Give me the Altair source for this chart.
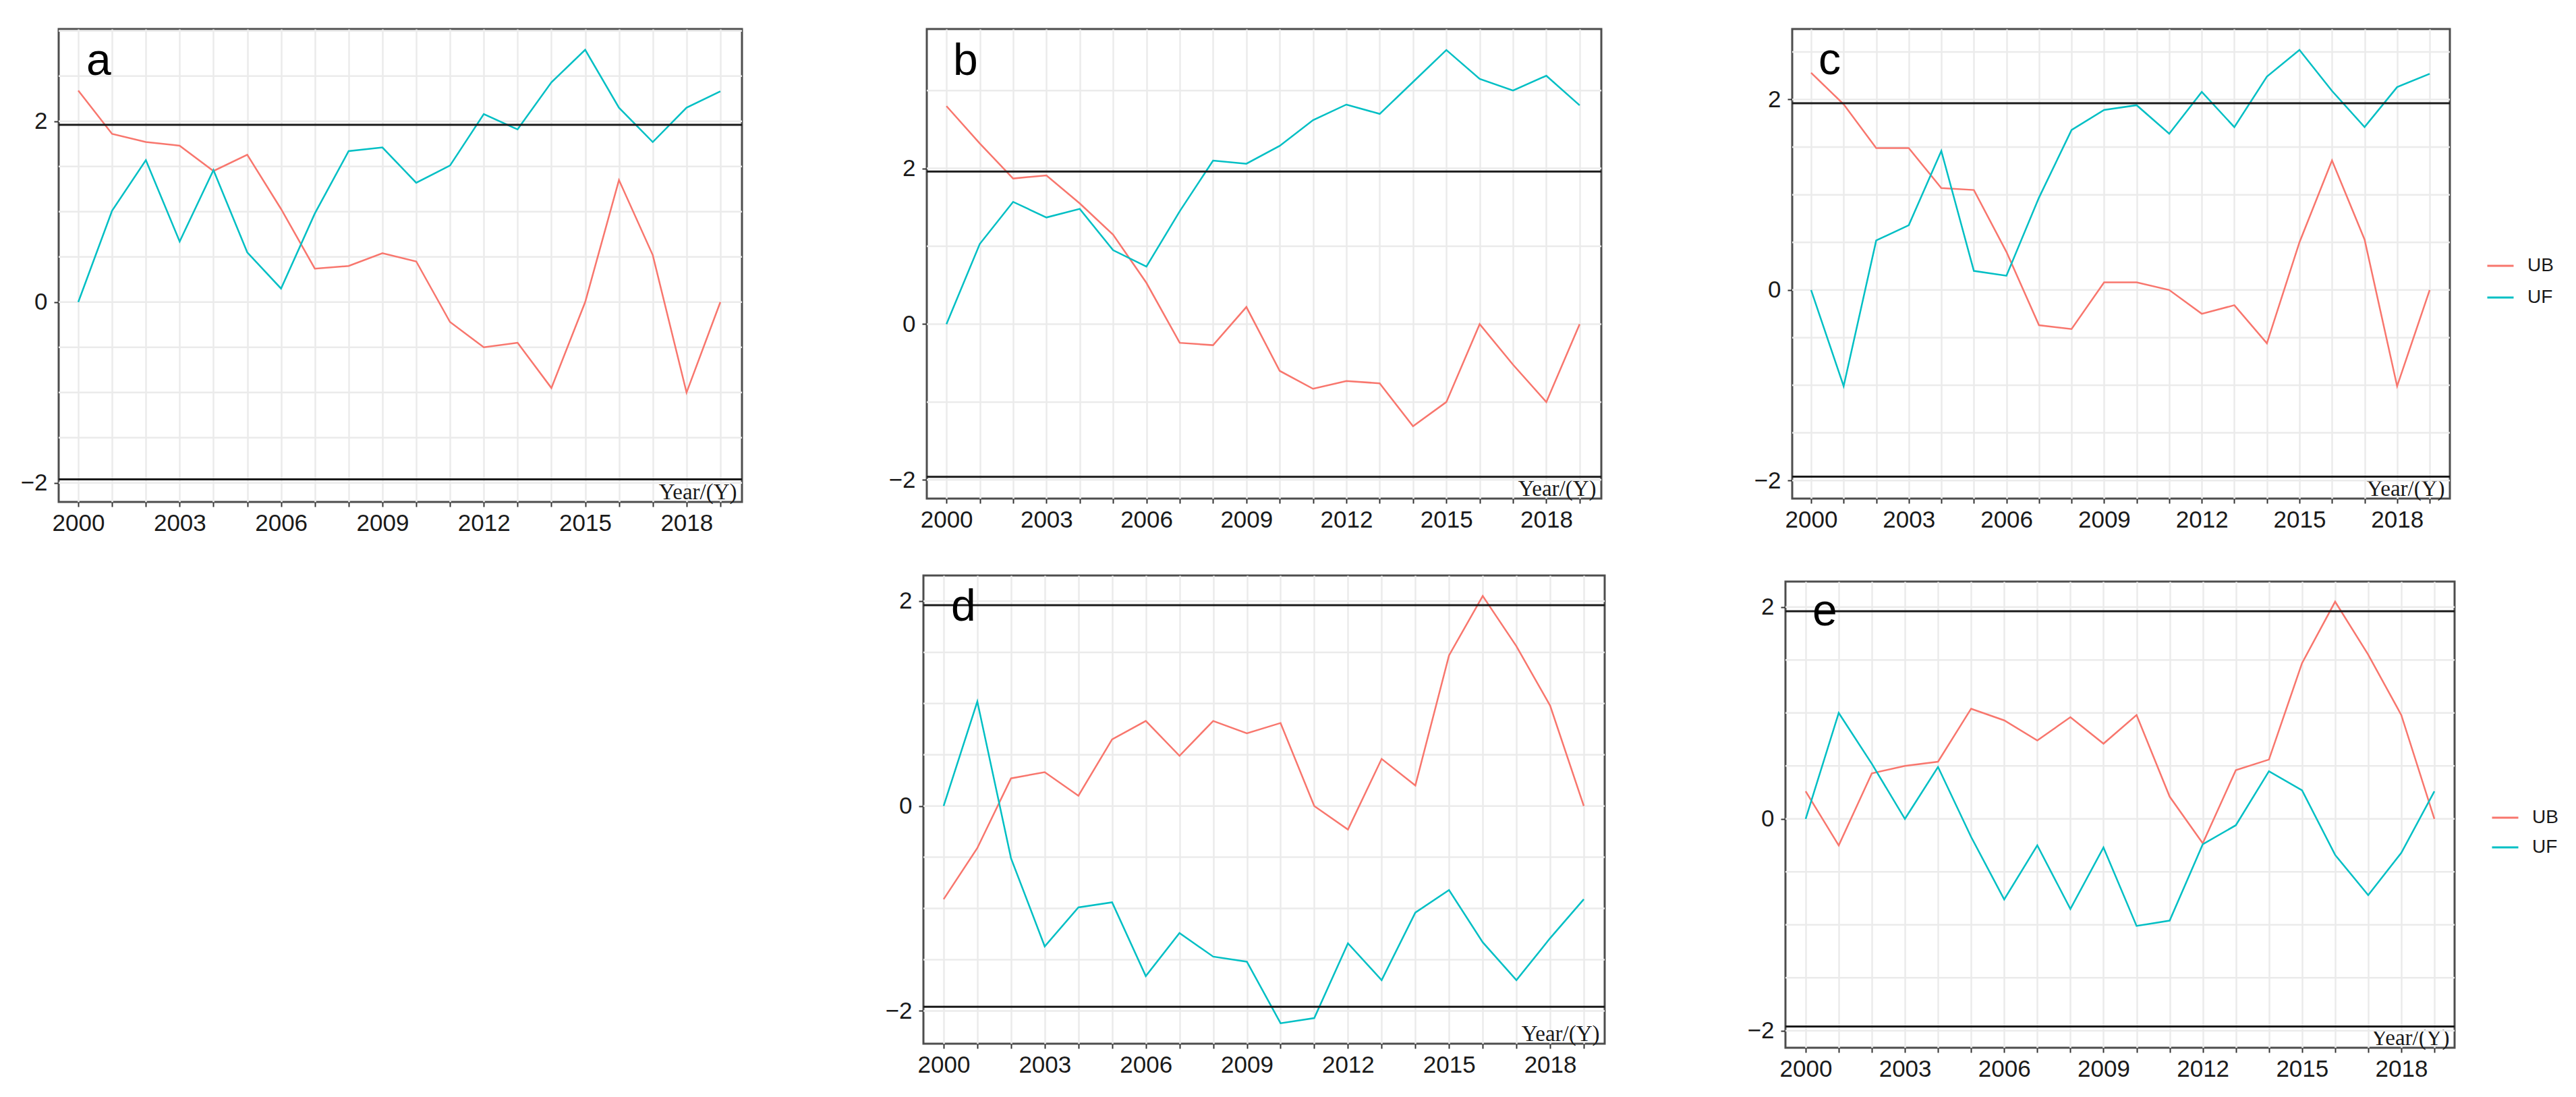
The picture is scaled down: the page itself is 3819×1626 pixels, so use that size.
import altair as alt
import pandas as pd

# ---------------- data ----------------
years = list(range(2000, 2020))
series_names = ["UB", "UF"]
series_colors = ["#F8766D", "#00BFC4"]
x_label_years = [2000, 2003, 2006, 2009, 2012, 2015, 2018]
y_tick_values = [-2, 0, 2]
thresholds = [1.96, -1.96]
panel_letters = ["a", "b", "c", "d", "e"]

a_ub = [2.34, 1.86, 1.77, 1.73, 1.45, 1.63, 1.03, 0.37, 0.40, 0.54, 0.45, -0.22, -0.50, -0.45, -0.95, 0.00, 1.35, 0.52, -1.00, 0.00]
a_uf = [0.00, 1.01, 1.57, 0.67, 1.46, 0.55, 0.15, 0.98, 1.67, 1.71, 1.32, 1.51, 2.08, 1.91, 2.43, 2.79, 2.15, 1.77, 2.15, 2.33]

b_ub = [2.80, 2.32, 1.87, 1.91, 1.55, 1.15, 0.53, -0.24, -0.27, 0.22, -0.60, -0.83, -0.73, -0.76, -1.31, -1.00, 0.00, -0.52, -1.00, 0.00]
b_uf = [0.00, 1.03, 1.57, 1.37, 1.48, 0.95, 0.74, 1.45, 2.10, 2.06, 2.29, 2.62, 2.82, 2.70, 3.11, 3.52, 3.15, 3.00, 3.19, 2.81]

c_ub = [2.28, 1.95, 1.49, 1.49, 1.07, 1.05, 0.40, -0.37, -0.41, 0.08, 0.08, 0.00, -0.25, -0.16, -0.56, 0.50, 1.36, 0.53, -1.01, 0.00]
c_uf = [0.00, -1.01, 0.52, 0.68, 1.46, 0.20, 0.15, 0.97, 1.68, 1.89, 1.94, 1.64, 2.08, 1.71, 2.24, 2.52, 2.09, 1.71, 2.13, 2.27]

d_ub = [-0.91, -0.41, 0.27, 0.33, 0.10, 0.65, 0.83, 0.49, 0.83, 0.71, 0.81, 0.00, -0.23, 0.46, 0.20, 1.47, 2.05, 1.56, 0.98, 0.00]
d_uf = [0.00, 1.02, -0.51, -1.37, -0.99, -0.94, -1.66, -1.24, -1.47, -1.52, -2.12, -2.07, -1.34, -1.70, -1.04, -0.82, -1.33, -1.70, -1.29, -0.91]

e_ub = [0.26, -0.25, 0.43, 0.50, 0.54, 1.04, 0.93, 0.74, 0.96, 0.71, 0.98, 0.21, -0.23, 0.46, 0.56, 1.47, 2.05, 1.55, 0.98, 0.00]
e_uf = [0.00, 1.00, 0.52, 0.00, 0.49, -0.17, -0.76, -0.25, -0.85, -0.27, -1.01, -0.96, -0.24, -0.06, 0.45, 0.27, -0.34, -0.72, -0.32, 0.26]

grid_half_a = [-2.0, -1.5, -1.0, -0.5, 0.0, 0.5, 1.0, 1.5, 2.0, 2.5, 3.0]
grid_one_b = [-2.0, -1.0, 0.0, 1.0, 2.0, 3.0]
grid_half_c = [-2.0, -1.5, -1.0, -0.5, 0.0, 0.5, 1.0, 1.5, 2.0, 2.5]
grid_half_de = [-2.0, -1.5, -1.0, -0.5, 0.0, 0.5, 1.0, 1.5, 2.0]

# ---------------- style ----------------
SANS = "Liberation Sans Narrow, Liberation Sans, Arial, sans-serif"
LETTER_FONT = "Liberation Sans, Arial, sans-serif"
SERIF = "Liberation Serif, Times New Roman, serif"
TXT = "#1a1a1a"
GRID = "#EBEBEB"

label_expr = "indexof([" + ",".join(str(v) for v in x_label_years) + "], datum.value) >= 0 ? datum.label : ''"


def long_df(ub, uf):
    return pd.DataFrame({
        "year": years + years,
        "value": ub + uf,
        "series": ["UB"] * len(years) + ["UF"] * len(years),
    })


def panel(letter, ub, uf, xdom, ydom, grid_vals, w, h, letter_x, letter_y, legend):
    xs = alt.Scale(domain=xdom, nice=False, zero=False)
    ys = alt.Scale(domain=ydom, nice=False, zero=False)
    xaxis = alt.Axis(
        values=years, format="d", labelExpr=label_expr,
        grid=True, gridColor=GRID, gridWidth=2.5,
        domain=False, tickSize=7, tickColor="#333333", tickWidth=2,
        labelFont=SANS, labelFontSize=35, labelColor=TXT, labelPadding=7,
        labelOverlap=False, labelFlush=False,
        title="Year/(Y)", titleFont=SERIF, titleFontSize=33, titleFontWeight="normal",
        titleColor=TXT, titleAlign="right", titleBaseline="alphabetic",
        titleX=w - 8, titleY=-5,
    )
    yaxis = alt.Axis(
        values=y_tick_values, format="d", grid=False, domain=False,
        tickSize=7, tickColor="#333333", tickWidth=2,
        labelFont=SANS, labelFontSize=35, labelColor=TXT, labelPadding=10,
        title=None,
    )
    hgrid = alt.Chart(pd.DataFrame({"g": grid_vals})).mark_rule(
        color=GRID, strokeWidth=2.5
    ).encode(y=alt.Y("g:Q", scale=ys, axis=yaxis))
    lines = alt.Chart(long_df(ub, uf)).mark_line(strokeWidth=2.5).encode(
        x=alt.X("year:Q", scale=xs, axis=xaxis),
        y=alt.Y("value:Q", scale=ys, axis=yaxis),
        color=alt.Color("series:N", scale=alt.Scale(domain=series_names, range=series_colors),
                        legend=legend),
    )
    thr = alt.Chart(pd.DataFrame({"t": thresholds})).mark_rule(
        color="#1a1a1a", strokeWidth=3
    ).encode(y=alt.Y("t:Q", scale=ys, axis=yaxis))
    lab = alt.Chart(pd.DataFrame({"L": [letter]})).mark_text(
        align="left", baseline="alphabetic", fontSize=66, font=LETTER_FONT, color="#000000"
    ).encode(x=alt.value(letter_x), y=alt.value(letter_y), text="L:N")
    return alt.layer(hgrid, lines, thr, lab).properties(width=w, height=h)


def spacer(w, h=1):
    return alt.Chart(pd.DataFrame({"s": [0]})).mark_point(opacity=0).encode(
        x=alt.value(0), y=alt.value(0)
    ).properties(width=w, height=h, view=alt.ViewBackground(stroke="transparent"))


def legend_at(x, y, row_pad):
    return alt.Legend(
        title=None, orient="none", legendX=x, legendY=y, padding=0,
        symbolType="stroke", symbolSize=1521, symbolStrokeWidth=3,
        labelFont=SANS, labelFontSize=28, labelColor=TXT, labelOffset=19,
        rowPadding=row_pad,
    )


pa = panel(panel_letters[0], a_ub, a_uf, [1999.42, 2019.64], [-2.21, 3.02], grid_half_a, 1013, 701, 41, 68, None)
pb = panel(panel_letters[1], b_ub, b_uf, [1999.41, 2019.65], [-2.24, 3.79], grid_one_b, 1000, 696, 39, 68, None)
pc = panel(panel_letters[2], c_ub, c_uf, [1999.42, 2019.62], [-2.19, 2.74], grid_half_c, 975, 696, 39, 67,
           legend_at(1029, 330, 12))
pd_ = panel(panel_letters[3], d_ub, d_uf, [1999.40, 2019.62], [-2.32, 2.25], grid_half_de, 1010, 694, 41, 67, None)
pe = panel(panel_letters[4], e_ub, e_uf, [1999.39, 2019.61], [-2.16, 2.24], grid_half_de, 992, 691, 40, 65,
           legend_at(1046, 329, 9))

row1 = alt.hconcat(pa, spacer(274), pb, spacer(283), pc, spacing=0, bounds="flush").resolve_legend(color="independent")
col_e = alt.vconcat(spacer(1, 9), pe, spacing=0, bounds="flush").resolve_legend(color="independent")
row2 = alt.hconcat(spacer(1282), pd_, spacer(268), col_e, spacing=0, bounds="flush").resolve_legend(color="independent")

chart = alt.vconcat(row1, row2, spacing=53, bounds="full").resolve_legend(
    color="independent"
).properties(
    padding={"left": 20, "top": 30, "right": 5, "bottom": 5},
    background="white",
).configure_view(stroke="#4d4d4d", strokeWidth=3)

chart.save("out.html", embed_options={"renderer": "svg", "actions": False})
